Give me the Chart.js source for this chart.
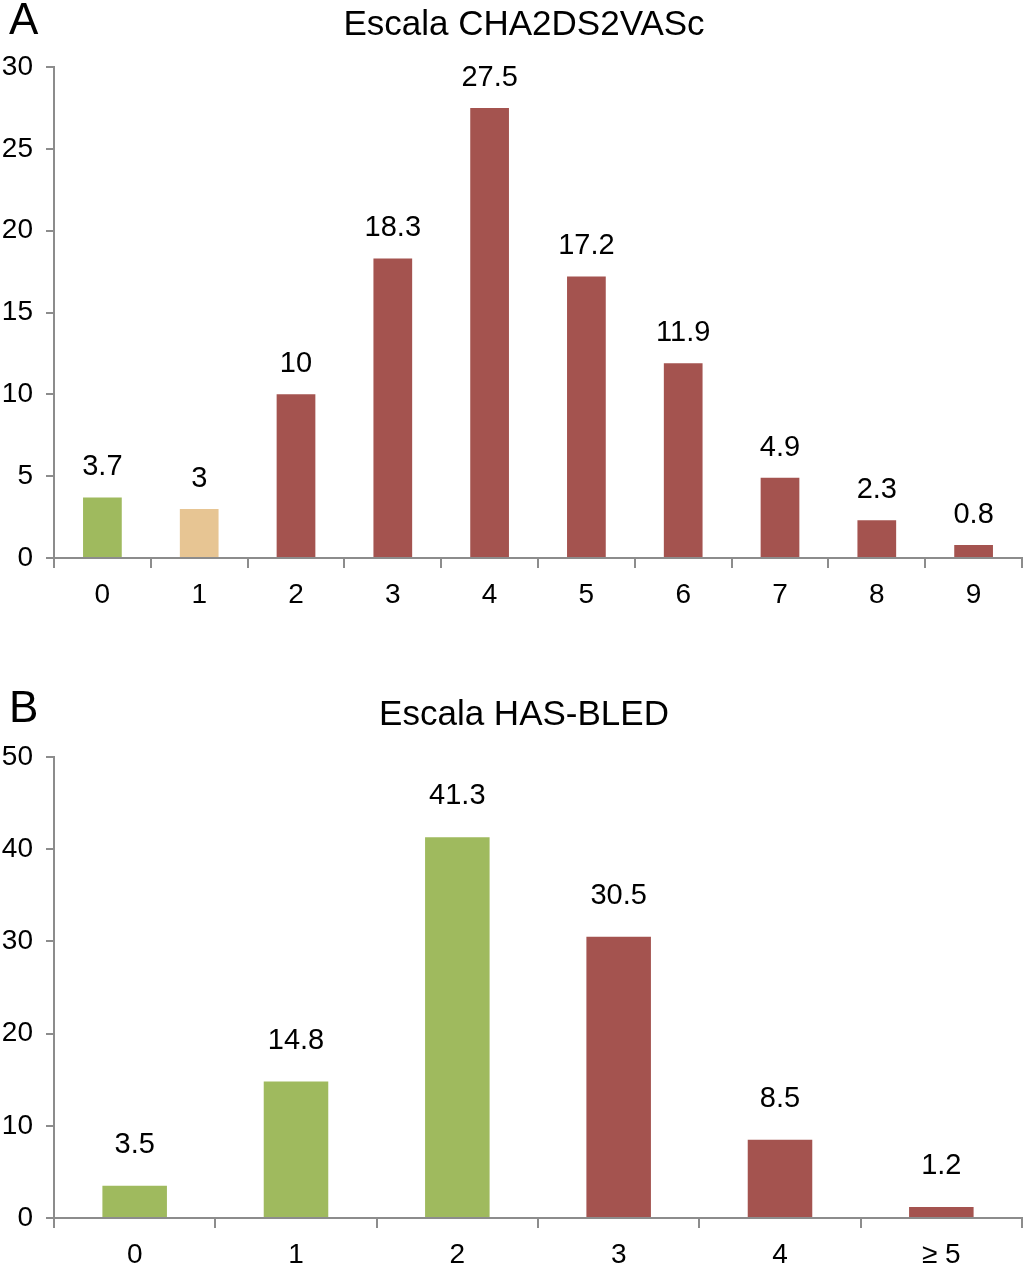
<!DOCTYPE html>
<html>
<head>
<meta charset="utf-8">
<script src="https://cdn.jsdelivr.net/npm/chart.js@4.4.1/dist/chart.umd.min.js"></script>
<style>
  html, body { margin: 0; padding: 0; background: #fff; }
  canvas { display: block; }
</style>
</head>
<body>
<canvas id="chartA" width="1024" height="640"></canvas>
<canvas id="chartB" width="1024" height="639"></canvas>
<script>
// ─── Data ─────────────────────────────────────────────────────────────────────

const catsA   = ['0', '1', '2', '3', '4', '5', '6', '7', '8', '9'];
const valuesA = [3.7, 3, 10, 18.3, 27.5, 17.2, 11.9, 4.9, 2.3, 0.8];
const groupA  = ['low', 'mid', 'high', 'high', 'high', 'high', 'high', 'high', 'high', 'high'];

const catsB   = ['0', '1', '2', '3', '4', '\u2265 5'];
const valuesB = [3.5, 14.8, 41.3, 30.5, 8.5, 1.2];
const groupB  = ['low', 'low', 'low', 'high', 'high', 'high'];

const palette = { low: '#9FBA5E', mid: '#E7C593', high: '#A4534F' };

const FONT   = '"Liberation Sans", Arial, Helvetica, sans-serif';
const AXIS   = '#8C8C8C';

// ─── Plugins ──────────────────────────────────────────────────────────────────

// value labels above each bar
const valueLabels = {
  id: 'valueLabels',
  afterDatasetsDraw(chart, args, opts) {
    const ctx  = chart.ctx;
    const meta = chart.getDatasetMeta(0);
    const data = chart.data.datasets[0].data;
    ctx.save();
    ctx.font = `29px ${FONT}`;
    ctx.fillStyle = '#000';
    ctx.textAlign = 'center';
    ctx.textBaseline = 'middle';
    meta.data.forEach((bar, i) => {
      ctx.fillText(String(data[i]), bar.x, bar.y - opts.offset);
    });
    ctx.restore();
  },
};

// panel letter in the top-left corner + heading (drawn here so it can sit
// slightly left of the canvas centre, as in the original figure)
const panelHeading = {
  id: 'panelHeading',
  afterDraw(chart, args, opts) {
    const ctx = chart.ctx;
    ctx.save();
    ctx.fillStyle = '#000';
    ctx.textBaseline = 'middle';
    ctx.font = `44px ${FONT}`;
    ctx.textAlign = 'left';
    ctx.fillText(opts.letter, 9, opts.letterY);
    ctx.font = `35px ${FONT}`;
    ctx.textAlign = 'center';
    ctx.fillText(opts.title, opts.titleX, opts.titleY);
    ctx.restore();
  },
};

// ─── Builder ──────────────────────────────────────────────────────────────────

function makeChart(id, { labels, values, groups, title, letter, letterY, titleY, top,
                         yMax, yStep, xHeight, labelOffset }) {
  return new Chart(document.getElementById(id), {
    type: 'bar',
    data: {
      labels,
      datasets: [{
        data: values,
        backgroundColor: groups.map(g => palette[g]),
        borderWidth: 0,
        barPercentage: 0.4,
        categoryPercentage: 1,
      }],
    },
    plugins: [valueLabels, panelHeading],
    options: {
      responsive: false,
      animation: false,
      devicePixelRatio: 1,
      layout: { padding: { left: 0, right: 2, top: top, bottom: 0 } },
      plugins: {
        legend: { display: false },
        tooltip: { enabled: false },
        title: { display: false },
        valueLabels: { offset: labelOffset },
        panelHeading: { letter, letterY, title, titleX: 524, titleY },
      },
      scales: {
        x: {
          afterFit: (s) => { s.height = xHeight; },
          border: { display: true, color: AXIS, width: 2 },
          grid: { display: true, drawOnChartArea: false, drawTicks: true, tickLength: 10,
                  color: AXIS, lineWidth: 2, offset: true },
          ticks: { color: '#000', font: { family: FONT, size: 28 }, padding: 10 },
        },
        y: {
          min: 0,
          max: yMax,
          afterFit: (s) => { s.width = 54; },
          border: { display: true, color: AXIS, width: 2 },
          grid: { display: true, drawOnChartArea: false, drawTicks: true, tickLength: 8,
                  color: AXIS, lineWidth: 2 },
          ticks: { stepSize: yStep, color: '#000', font: { family: FONT, size: 28 }, padding: 13 },
        },
      },
    },
  });
}

makeChart('chartA', {
  labels: catsA, values: valuesA, groups: groupA,
  title: 'Escala CHA2DS2VASc', letter: 'A', letterY: 22, titleY: 25, top: 67,
  yMax: 30, yStep: 5, xHeight: 82, labelOffset: 30,
});

makeChart('chartB', {
  labels: catsB, values: valuesB, groups: groupB,
  title: 'Escala HAS-BLED', letter: 'B', letterY: 70, titleY: 75, top: 117,
  yMax: 50, yStep: 10, xHeight: 61, labelOffset: 41,
});
</script>
</body>
</html>
